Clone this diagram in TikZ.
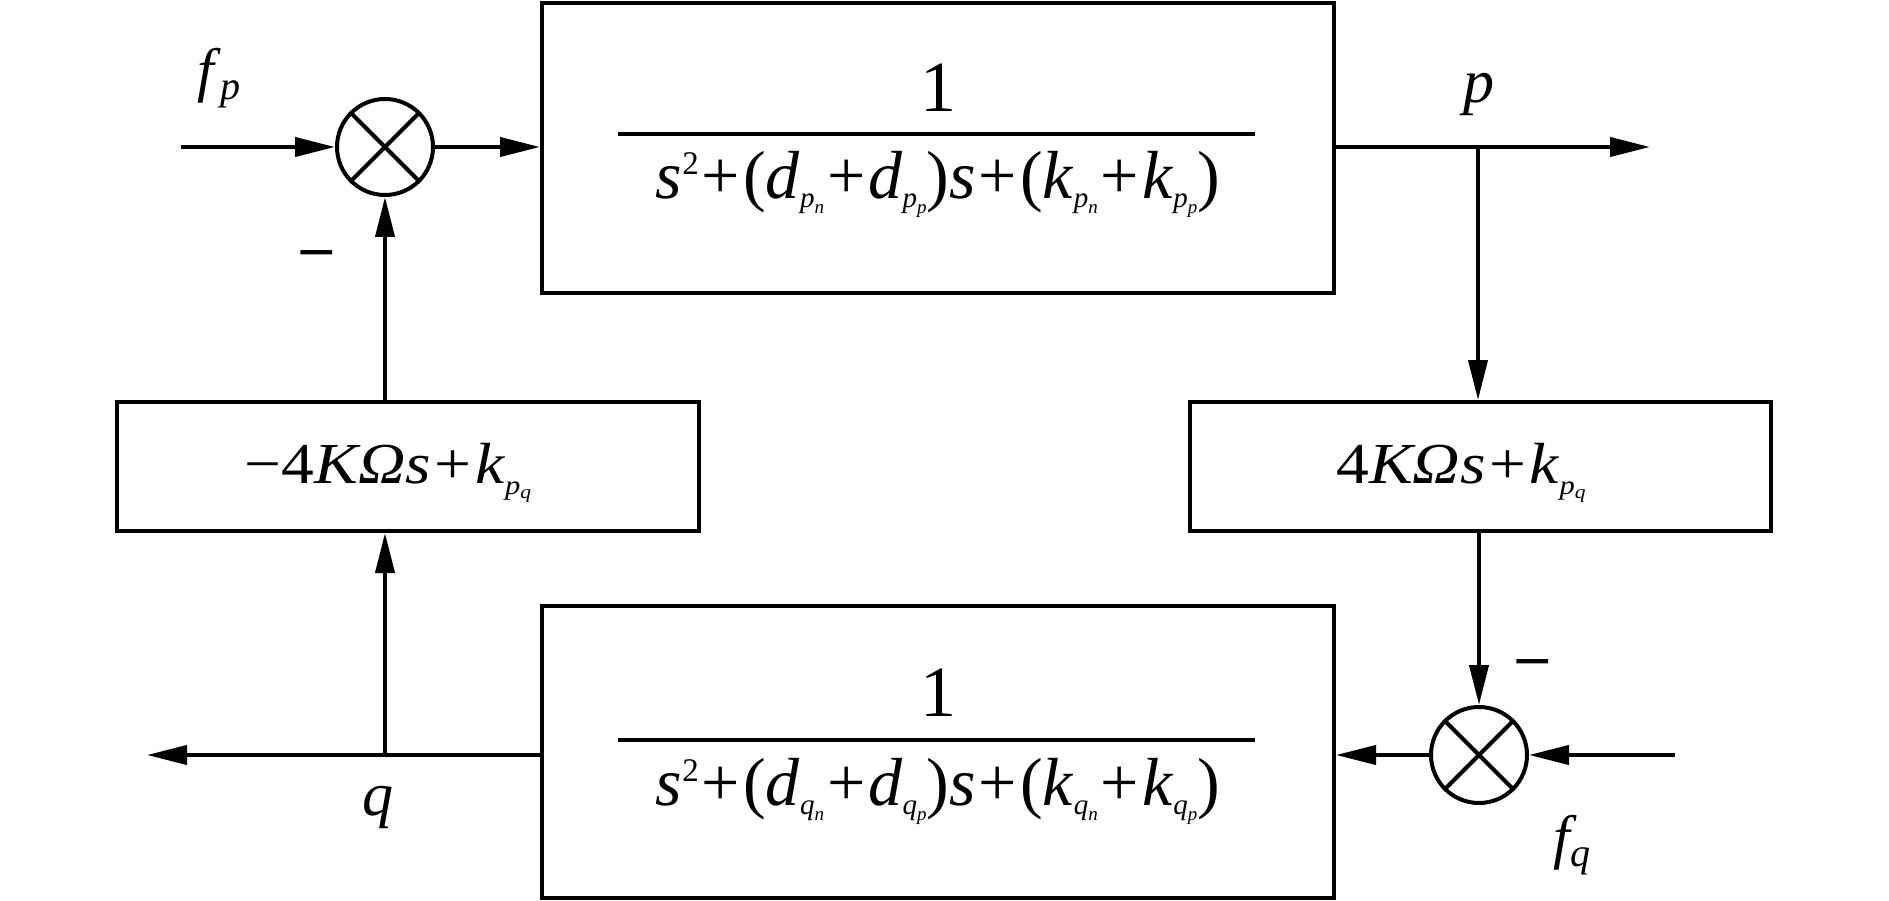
\documentclass[tikz,border=0pt]{standalone}
\usepackage{fontspec}
\setmainfont{Liberation Serif}
\usetikzlibrary{arrows.meta}
\newcommand{\I}[1]{\textit{#1}}
% two-level subscript inside fractions
\newcommand{\fsub}[2]{\raisebox{-9pt}{\fontsize{29}{29}\selectfont\I{#1}\raisebox{-6pt}{\fontsize{19}{19}\selectfont\I{#2}}}}
% two-level subscript in side blocks
\newcommand{\hsub}[2]{\raisebox{-11pt}{\fontsize{27}{27}\selectfont\I{#1}\raisebox{-4pt}{\fontsize{19}{19}\selectfont\I{#2}}}}
\newcommand{\pl}{\hspace{3pt}+\hspace{3pt}}
\newcommand{\sqr}{\raisebox{24pt}{\fontsize{33}{33}\selectfont 2}}
\newcommand{\lsub}[1]{\raisebox{-9pt}{\fontsize{40}{40}\selectfont\I{#1}}}
\tikzset{
  ln/.style={line width=4pt},
  arr/.style={ln,-{Triangle[length=40pt,width=19pt]}},
  blk/.style={draw,line width=4pt,rectangle,inner sep=0pt},
  sumj/.style={draw,line width=4pt,circle,minimum size=96pt,inner sep=0pt},
  fr/.style={font=\fontsize{68}{72}\selectfont,inner sep=0pt,anchor=base},
  num/.style={font=\fontsize{72}{76}\selectfont,inner sep=0pt,anchor=base},
  tx/.style={font=\fontsize{58}{64}\selectfont,inner sep=0pt,anchor=base},
  lbl/.style={font=\fontsize{62}{66}\selectfont,inner sep=0pt,anchor=base},
}
\begin{document}
\begin{tikzpicture}[x=1pt,y=-1pt]
\useasboundingbox (0,0) rectangle (1889,901);
% blocks
\node[blk,minimum width=792pt,minimum height=290pt] (G1) at (938,148) {};
\node[blk,minimum width=792pt,minimum height=292pt] (G2) at (938,752) {};
\node[blk,minimum width=582pt,minimum height=129pt] (H1) at (408,466.5) {};
\node[blk,minimum width=581pt,minimum height=129pt] (H2) at (1480.5,466.5) {};
% summing junctions
\node[sumj] (S1) at (385,147) {};
\node[sumj] (S2) at (1479,755) {};
\draw[ln] (S1.north west) -- (S1.south east) (S1.north east) -- (S1.south west);
\draw[ln] (S2.north west) -- (S2.south east) (S2.north east) -- (S2.south west);
% fraction texts
\node[num] (n1) at (938,112) {1};
\draw[ln] (618,134.5) -- (1255,134.5);
\node[fr] (d1) at (938,199) {\I{s}\sqr\pl(\I{d}\fsub{p}{n}\pl\I{d}\fsub{p}{p})\I{s}\pl(\I{k}\fsub{p}{n}\pl\I{k}\fsub{p}{p})};
\node[num] (n2) at (938,716) {1};
\draw[ln] (618,739.5) -- (1255,739.5);
\node[fr] (d2) at (938,805) {\I{s}\sqr\pl(\I{d}\fsub{q}{n}\pl\I{d}\fsub{q}{p})\I{s}\pl(\I{k}\fsub{q}{n}\pl\I{k}\fsub{q}{p})};
\node[tx] (h1) at (388,483) {\scalebox{1.13}[1]{−4\I{KΩs}\pl\I{k}\hsub{p}{q}}};
\node[tx] (h2) at (1461,483) {\scalebox{1.13}[1]{4\I{KΩs}\pl\I{k}\hsub{p}{q}}};
% coordinates
\coordinate (fpin) at (181,147);
\coordinate (pout) at (1650,147);
\coordinate (br) at (1478,147);
\coordinate (qout) at (147,755);
\coordinate (bq) at (385,755);
\coordinate (fqin) at (1675,755);
% connectors
\draw[arr] (fpin) -- (S1.west);
\draw[arr] (S1.east) -- (G1.west |- S1.east);
\draw[arr] (G1.east |- br) -- (pout);
\draw[arr] (br) -- (br |- H2.north);
\draw[arr] (H2.south -| S2.north) -- (S2.north);
\draw[arr] (fqin) -- (S2.east);
\draw[arr] (S2.west) -- (G2.east |- S2.west);
\draw[arr] (G2.west |- bq) -- (qout);
\draw[arr] (bq) -- (bq |- H1.south);
\draw[arr] (H1.north -| S1.south) -- (S1.south);
% labels
\node[lbl,font=\fontsize{60}{64}\selectfont] (lfp) at (219,91) {\I{f}\lsub{p}};
\node[lbl] (lp) at (1479,103) {\I{p}};
\node[lbl] (lq) at (378,815) {\I{q}};
\node[lbl,font=\fontsize{60}{64}\selectfont] (lfq) at (1572,857) {\I{f}\hspace{-6pt}\lsub{q}};
\node[lbl] (m1) at (317,281) {\scalebox{1.1}[1.4]{−}};
\node[lbl] (m2) at (1533,690) {\scalebox{1.1}[1.4]{−}};
\end{tikzpicture}
\end{document}
